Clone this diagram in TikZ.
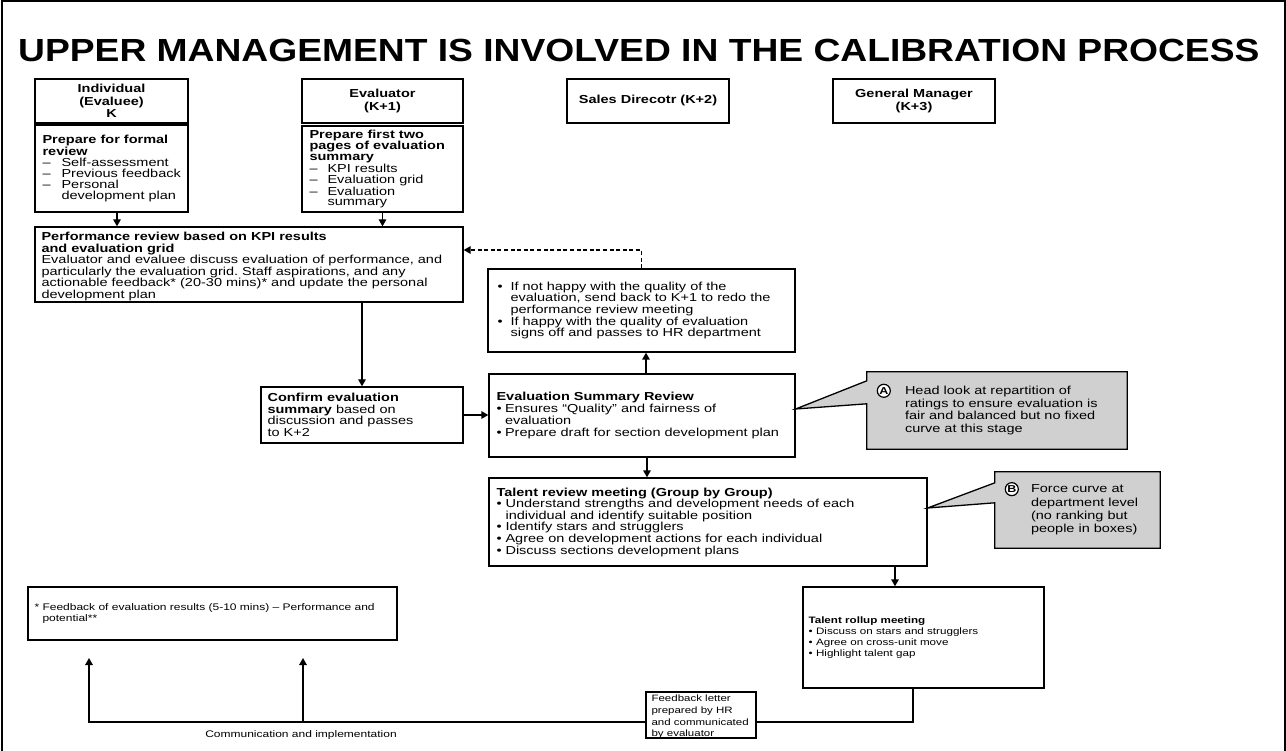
\documentclass[tikz,border=0pt]{standalone}
\usepackage{fontspec}
\setmainfont{Liberation Sans}[FakeStretch=1.25]
\newfontfamily\titlefamily{Liberation Sans}[FakeStretch=1.163]
\usetikzlibrary{arrows.meta,calc,backgrounds}
\definecolor{calloutgray}{RGB}{208,208,208}
\frenchspacing

% font sizes used in the chart
\newcommand\headfont{\fontsize{11.6}{12.5}\selectfont\bfseries}
% bullet and dash markers of a given width
\newcommand\bul[1]{\makebox[#1][l]{•}}
\newcommand\dsh[1]{\makebox[#1][l]{–}}

\begin{document}
\begin{tikzpicture}[x=1pt,y=-1pt,
  frame/.style n args={2}{draw, line width=1.3pt, inner sep=0pt,
     minimum width=#1pt, minimum height=#2pt},
  txt/.style={inner sep=0pt, align=left, anchor=west},
  head/.style={draw, line width=1.3pt, inner sep=0pt, minimum width=#1pt,
     minimum height=44pt, align=center, font=\headfont},
  arr/.style={line width=1.3pt, -{Triangle[length=7pt,width=7.5pt]}},
  link/.style={line width=1.3pt},
  dashlink/.style={line width=1.3pt, dash pattern=on 4pt off 2.6pt,
     -{Triangle[length=7pt,width=7.5pt]}},
  callbody/.style n args={2}{inner sep=0pt, minimum width=#1pt, minimum height=#2pt},
  callshape/.style={fill=calloutgray, draw, line width=1.3pt, line join=miter},
  badge/.style={circle, draw, line width=1.2pt, fill=white, inner sep=0pt,
     minimum size=13pt, font=\fontsize{10}{10}\selectfont\bfseries},
  lbl/.style={inner sep=0pt, font=\fontsize{9.6}{11}\selectfont}
]
\useasboundingbox (0,0) rectangle (1286,751);

% page frame
\draw[line width=2pt] (1.5,751) -- (1.5,1.5) -- (1284.5,1.5) -- (1284.5,751);

% title
\node[anchor=base west, inner sep=0pt,
      font={\titlefamily\fontsize{32}{34}\selectfont\bfseries}] (title) at (18,62)
  {UPPER MANAGEMENT IS INVOLVED IN THE CALIBRATION PROCESS};

% role headers
\node[head=153] (hInd)   at (111.5,101) {Individual\\(Evaluee)\\K};
\node[head=161] (hEval)  at (382.5,101) {Evaluator\\(K+1)};
\node[head=162] (hSales) at (648,101)   {Sales Direcotr (K+2)};
\node[head=162] (hGM)    at (914,101)   {General Manager\\(K+3)};

% preparation boxes
\node[frame={153}{87}] (prepK) at (111.5,168.5) {};
\node[txt, font=\fontsize{11.6}{10.8}\selectfont] (prepKt) at ([xshift=8]prepK.west)
  {\textbf{Prepare for formal}\\\textbf{review}\\
   \dsh{19pt}Self-assessment\\
   \dsh{19pt}Previous feedback\\
   \dsh{19pt}Personal\\
   \hspace*{19pt}development plan};
\node[frame={161}{86}] (prepE) at (382.5,169) {};
\node[txt, font=\fontsize{11.6}{10.8}\selectfont] (prepEt) at ([xshift=8]prepE.west)
  {\textbf{Prepare first two}\\\textbf{pages of evaluation}\\\textbf{summary}\\
   \dsh{18pt}KPI results\\
   \dsh{18pt}Evaluation grid\\
   \dsh{18pt}Evaluation\\
   \hspace*{18pt}summary};

% performance review
\node[frame={428}{75}] (perf) at (249,264.5) {};
\node[txt, font=\fontsize{11.6}{11.5}\selectfont] (perft) at ([xshift=7,yshift=-2]perf.west)
  {\textbf{Performance review based on KPI results}\\\textbf{and evaluation grid}\\
   Evaluator and evaluee discuss evaluation of performance, and\\
   particularly the evaluation grid. Staff aspirations, and any\\
   actionable feedback* (20-30 mins)* and update the personal\\
   development plan};

% quality check by K+2
\node[frame={307}{83}] (check) at (641.5,310.5) {};
\node[txt, font=\fontsize{11.6}{11.7}\selectfont] (checkt) at ([xshift=10]check.west)
  {\bul{13pt}If not happy with the quality of the\\
   \hspace*{13pt}evaluation, send back to K+1 to redo the\\
   \hspace*{13pt}performance review meeting\\
   \bul{13pt}If happy with the quality of evaluation\\
   \hspace*{13pt}signs off and passes to HR department};

% confirmation and summary review
\node[frame={202}{56}] (confirm) at (362,415) {};
\node[txt, font=\fontsize{11.6}{11.6}\selectfont] (confirmt) at ([xshift=7]confirm.west)
  {\textbf{Confirm evaluation}\\\textbf{summary} based on\\discussion and passes\\to K+2};
\node[frame={306}{83}] (esr) at (642,415.5) {};
\node[txt, font=\fontsize{11.6}{11.7}\selectfont] (esrt) at ([xshift=8]esr.west)
  {\textbf{Evaluation Summary Review}\\
   \bul{8.5pt}Ensures “Quality” and fairness of\\
   \hspace*{8.5pt}evaluation\\
   \bul{8.5pt}Prepare draft for section development plan};

% talent review
\node[frame={438}{88}] (talent) at (708,522) {};
\node[txt, font=\fontsize{11.6}{11.6}\selectfont] (talentt) at ([xshift=8]talent.west)
  {\textbf{Talent review meeting (Group by Group)}\\
   \bul{9pt}Understand strengths and development needs of each\\
   \hspace*{9pt}individual and identify suitable position\\
   \bul{9pt}Identify stars and strugglers\\
   \bul{9pt}Agree on development actions for each individual\\
   \bul{9pt}Discuss sections development plans};

% talent rollup
\node[frame={241}{101}] (rollup) at (923.5,637.5) {};
\node[txt, font=\fontsize{9.3}{11.1}\selectfont] (rollupt) at ([xshift=6]rollup.west)
  {\textbf{Talent rollup meeting}\\
   \bul{7.5pt}Discuss on stars and strugglers\\
   \bul{7.5pt}Agree on cross-unit move\\
   \bul{7.5pt}Highlight talent gap};

% feedback letter
\node[frame={110}{46}] (letter) at (701,715) {};
\node[txt, font=\fontsize{9.2}{11.7}\selectfont] (lettert) at ([xshift=6,yshift=-2]letter.west)
  {Feedback letter\\prepared by HR\\and communicated\\by evaluator};

% footnote box
\node[frame={369}{53}] (foot) at (212.5,613.5) {};
\node[txt, font=\fontsize{9.6}{11}\selectfont] (foott) at ([xshift=7]foot.west)
  {\makebox[8pt][l]{*}Feedback of evaluation results (5-10 mins) – Performance and\\
   \hspace*{8pt}potential**};

% callouts
\node[callbody={260}{77}] (cA) at (997,410.5) {};
\node[callbody={165}{76}] (cB) at (1077.5,510) {};
\coordinate (tipA) at ([yshift=6.5]esr.east);
\coordinate (tipB) at ([yshift=14]talent.east);
\begin{pgfonlayer}{background}
  \path[callshape] (cA.north west) -- (cA.north east) -- (cA.south east) -- (cA.south west)
     -- ($(cA.north west)+(0,32)$) -- (tipA) -- ($(cA.north west)+(0,9)$) -- cycle;
  \path[callshape] (cB.north west) -- (cB.north east) -- (cB.south east) -- (cB.south west)
     -- ($(cB.north west)+(0,31)$) -- (tipB) -- ($(cB.north west)+(0,11)$) -- cycle;
\end{pgfonlayer}
\node[txt, font=\fontsize{11.6}{12.4}\selectfont] (tA) at ([xshift=38]cA.west)
  {Head look at repartition of\\ratings to ensure evaluation is\\fair and balanced but no fixed\\curve at this stage};
\node[badge] (bA) at ([xshift=-21,yshift=-4.5]tA.north west) {A};
\node[txt, font=\fontsize{11.6}{13.3}\selectfont] (tB) at ([xshift=36]cB.west)
  {Force curve at\\department level\\(no ranking but\\people in boxes)};
\node[badge] (bB) at ([xshift=-19,yshift=-4.5]tB.north west) {B};

% flow connectors
\draw[arr] ([xshift=5.5]prepK.south) -- ([xshift=5.5]prepK.south |- perf.north);
\draw[arr] (prepE.south) -- (prepE.south |- perf.north);
\draw[arr] (confirm.north |- perf.south) -- (confirm.north);
\draw[arr] (confirm.east) -- (confirm.east -| esr.west);
\draw[arr] ([xshift=4]esr.north) -- ([xshift=4]esr.north |- check.south);
\draw[arr] ([xshift=5]esr.south) -- ([xshift=5]esr.south |- talent.north);
\draw[arr] ([xshift=187]talent.south) -- ([xshift=187]talent.south |- rollup.north);
\draw[dashlink] (check.north) |- ([yshift=14.5]perf.east);

% communication back to the individual
\coordinate (up1) at (89,658);
\coordinate (up2) at (303,658);
\coordinate (j2) at (303,722);
\draw[link] ([xshift=-10.5]rollup.south) |- ([yshift=-7]letter.east);
\draw[arr] ([yshift=-7]letter.west) -| (up1);
\draw[arr] (j2) -- (up2);
\node[lbl] (comm) at (301,735) {Communication and implementation};
\end{tikzpicture}
\end{document}
